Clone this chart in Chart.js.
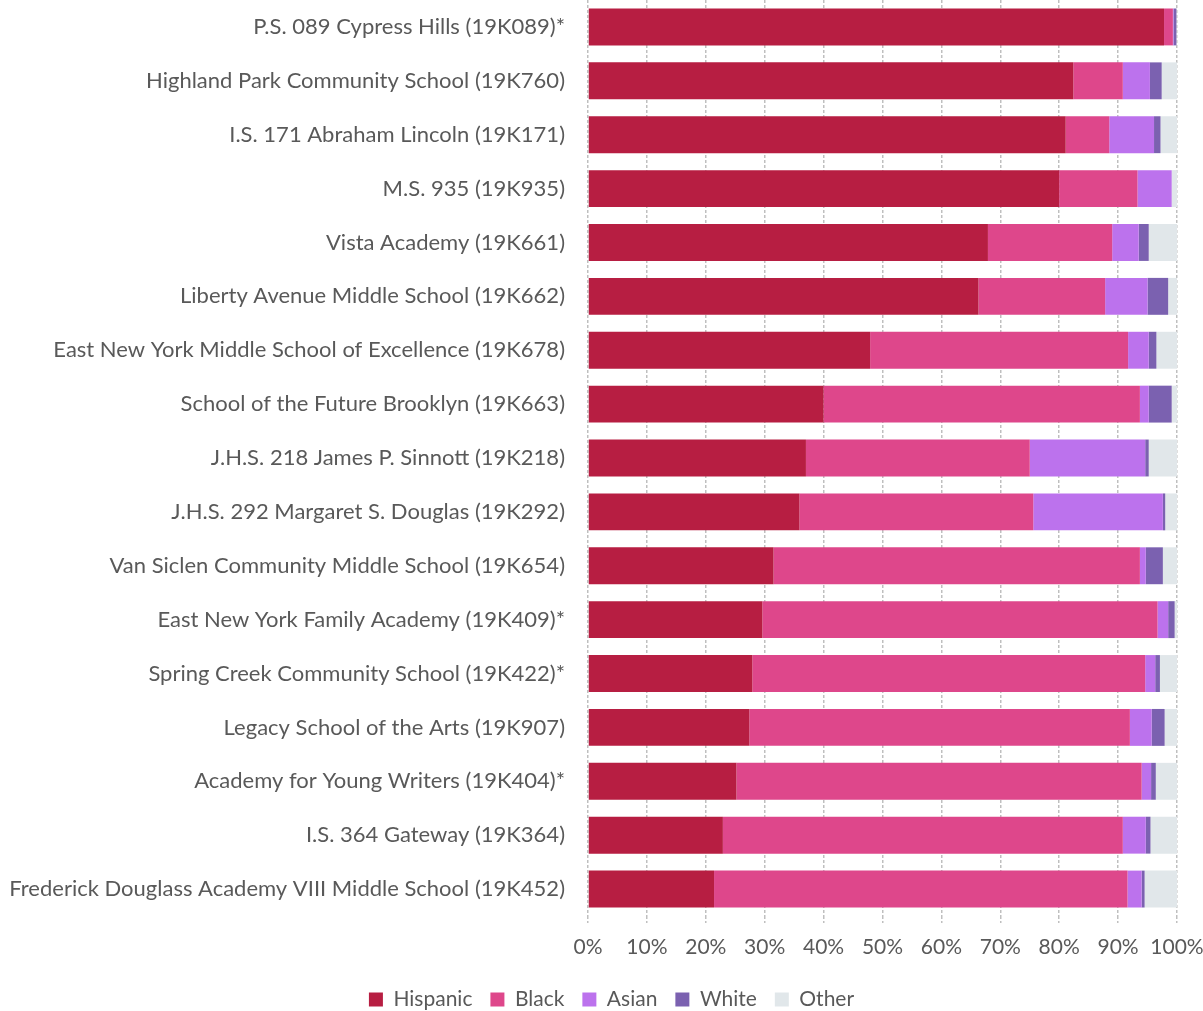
<!DOCTYPE html>
<html>
<head>
<meta charset="utf-8">
<script src="https://cdn.jsdelivr.net/npm/chart.js@4.4.1/dist/chart.umd.min.js"></script>
<style>
  html, body { margin: 0; padding: 0; background: #fff; }
  #wrap { width: 1203px; height: 1011px; }
</style>
</head>
<body>
<div id="wrap"><canvas id="raceChart"></canvas></div>
<script>
const schools = [
  "P.S. 089 Cypress Hills (19K089)*",
  "Highland Park Community School (19K760)",
  "I.S. 171 Abraham Lincoln (19K171)",
  "M.S. 935 (19K935)",
  "Vista Academy (19K661)",
  "Liberty Avenue Middle School (19K662)",
  "East New York Middle School of Excellence (19K678)",
  "School of the Future Brooklyn (19K663)",
  "J.H.S. 218 James P. Sinnott (19K218)",
  "J.H.S. 292 Margaret S. Douglas (19K292)",
  "Van Siclen Community Middle School (19K654)",
  "East New York Family Academy (19K409)*",
  "Spring Creek Community School (19K422)*",
  "Legacy School of the Arts (19K907)",
  "Academy for Young Writers (19K404)*",
  "I.S. 364 Gateway (19K364)",
  "Frederick Douglass Academy VIII Middle School (19K452)"
];

// percent of students
const hispanic = [97.8, 82.4, 81.1, 80.0, 67.9, 66.3, 47.9, 40.0, 37.0, 35.9, 31.5, 29.6, 27.9, 27.4, 25.2, 22.9, 21.4];
const black    = [1.5, 8.4, 7.4, 13.3, 21.1, 21.5, 43.8, 53.7, 38.0, 39.7, 62.2, 67.1, 66.7, 64.6, 68.8, 67.9, 70.2];
const asian    = [0.1, 4.6, 7.6, 5.8, 4.5, 7.2, 3.5, 1.5, 19.6, 22.0, 1.0, 1.8, 1.7, 3.7, 1.6, 3.9, 2.4];
const white    = [0.5, 2.0, 1.1, 0.0, 1.7, 3.5, 1.3, 3.9, 0.6, 0.4, 2.9, 1.1, 0.8, 2.2, 0.8, 0.8, 0.5];
const other    = [0.1, 2.6, 2.8, 0.9, 4.8, 1.5, 3.5, 0.9, 4.8, 2.0, 2.4, 0.4, 2.9, 2.1, 3.6, 4.5, 5.5];

const xTicks = [0, 10, 20, 30, 40, 50, 60, 70, 80, 90, 100];

const textColor = '#595959';
const fontFamily = 'Lato, "Open Sans", sans-serif';

function series(label, data, color) {
  return {
    label,
    data,
    backgroundColor: color,
    borderWidth: 0,
    barPercentage: 1,
    categoryPercentage: 0.685
  };
}

const ctx = document.getElementById('raceChart').getContext('2d');
const raceChart = new Chart(ctx, {
  type: 'bar',
  data: {
    labels: schools,
    datasets: [
      series('Hispanic', hispanic, '#B71E42'),
      series('Black', black, '#DE478B'),
      series('Asian', asian, '#BC72ED'),
      series('White', white, '#7B61B0'),
      series('Other', other, '#E1E7EA')
    ]
  },
  options: {
    indexAxis: 'y',
    responsive: true,
    maintainAspectRatio: false,
    animation: false,
    layout: { padding: { top: 0, right: 0, bottom: 0, left: 0 } },
    scales: {
      x: {
        stacked: true,
        min: 0,
        max: 100,
        afterBuildTicks: axis => { axis.ticks = xTicks.map(v => ({ value: v })); },
        grid: {
          color: '#BFBFBF',
          lineWidth: 1.5,
          tickLength: 7,
          tickBorderDash: [3, 2]
        },
        border: { display: false, dash: [3, 2] },
        ticks: {
          color: textColor,
          font: { family: fontFamily, size: 21 },
          padding: 12,
          callback: v => v + '%'
        },
        afterFit: axis => {
          axis.height = 55;
          axis.paddingRight = 26;
        }
      },
      y: {
        stacked: true,
        grid: { display: false },
        border: { display: false },
        ticks: {
          color: textColor,
          font: { family: fontFamily, size: 22 },
          padding: 15,
          autoSkip: false
        },
        afterFit: axis => {
          axis.width = 588;
          axis.paddingTop = 0;
          axis.paddingBottom = 0;
        }
      }
    },
    plugins: {
      legend: {
        position: 'bottom',
        labels: {
          color: textColor,
          font: { family: fontFamily, size: 21 },
          boxWidth: 14,
          boxHeight: 14,
          padding: 18
        }
      },
      tooltip: { enabled: false }
    }
  },
  plugins: [{
    // shorter legend box, nudged right to sit where the original does
    id: 'legendTweak',
    beforeInit(chart) {
      if (chart.legend) {
        const fit = chart.legend.fit;
        chart.legend.fit = function () {
          fit.call(this);
          this.height = 40;
        };
      }
    },
    afterLayout(chart) {
      if (chart.legend) {
        chart.legend.left += 10;
        chart.legend.right += 10;
      }
    }
  }]
});
</script>
</body>
</html>
